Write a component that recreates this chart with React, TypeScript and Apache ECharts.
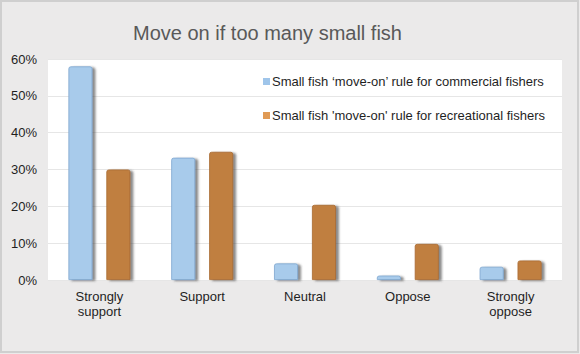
import React, { useEffect, useRef } from "react";
import * as echarts from "echarts";

const categories = ["Strongly\nsupport", "Support", "Neutral", "Oppose", "Strongly\noppose"];
const commercialName = "Small fish \u2018move-on\u2019 rule for commercial fishers";
const recreationalName = "Small fish 'move-on' rule for recreational fishers";
const commercialValues = [58, 33.2, 4.5, 1.2, 3.6];
const recreationalValues = [30, 34.8, 20.4, 9.8, 5.3];
const titleText = "Move on if too many small fish";

export default function App() {
  const ref = useRef<HTMLDivElement>(null);
  useEffect(() => {
    if (!ref.current) return;
    const chart = echarts.init(ref.current, null, { renderer: "svg" });
    const font = "Liberation Sans, Arial, sans-serif";
    const shadow = {
      shadowColor: "rgba(60,60,60,0.6)",
      shadowBlur: 2,
      shadowOffsetX: 3,
      shadowOffsetY: 1,
    };
    chart.setOption({
      animation: false,
      backgroundColor: "#ebeaea",
      textStyle: { fontFamily: font },
      title: {
        text: titleText,
        left: 133,
        top: 23,
        padding: 0,
        textStyle: { fontSize: 20, fontWeight: "normal", color: "#595959", fontFamily: font },
      },
      graphic: [
        {
          type: "rect",
          shape: { x: 1, y: 1, width: 577, height: 351 },
          style: { fill: "none", stroke: "#cfcfcf", lineWidth: 2 },
          silent: true,
        },
      ],
      legend: {
        orient: "vertical",
        left: 263,
        top: 75,
        itemWidth: 7,
        itemHeight: 7,
        itemGap: 21,
        icon: "rect",
        padding: 0,
        textStyle: { fontSize: 13, color: "#1f1f1f", fontFamily: font, padding: [0, 0, 0, -3] },
        data: [
          { name: commercialName, itemStyle: { color: "#9fc5ea", borderWidth: 0, shadowBlur: 0, shadowOffsetX: 0, shadowOffsetY: 0 } },
          { name: recreationalName, itemStyle: { color: "#e09a55", borderWidth: 0, shadowBlur: 0, shadowOffsetX: 0, shadowOffsetY: 0 } },
        ],
      },
      grid: {
        left: 48,
        right: 18,
        top: 59,
        bottom: 74,
        show: true,
        backgroundColor: "#ffffff",
        borderWidth: 0,
      },
      xAxis: {
        type: "category",
        data: categories,
        axisLine: { show: false },
        axisTick: { show: false },
        axisLabel: { color: "#1f1f1f", fontSize: 13, margin: 9, lineHeight: 15, fontFamily: font },
      },
      yAxis: {
        type: "value",
        min: 0,
        max: 60,
        interval: 10,
        axisLine: { show: false },
        axisTick: { show: false },
        axisLabel: { formatter: "{value}%", color: "#1f1f1f", fontSize: 13, margin: 11, fontFamily: font },
        splitLine: { lineStyle: { color: "#e6e6e6", width: 1 } },
      },
      series: [
        {
          name: commercialName,
          type: "bar",
          data: commercialValues,
          barWidth: 24,
          barGap: "58%",
          itemStyle: {
            color: "#a8cbeb",
            borderColor: "#7ea6cf",
            borderWidth: 0.8,
            borderRadius: [2, 2, 0, 0],
            ...shadow,
          },
        },
        {
          name: recreationalName,
          type: "bar",
          data: recreationalValues,
          barWidth: 24,
          itemStyle: {
            color: "#c07f41",
            borderColor: "#a86a30",
            borderWidth: 0.8,
            borderRadius: [2, 2, 0, 0],
            ...shadow,
          },
        },
      ],
    });
    return () => chart.dispose();
  }, []);
  return (
    <div
      ref={ref}
      style={{ position: "fixed", left: 0, top: 0, width: 580, height: 354 }}
    />
  );
}
